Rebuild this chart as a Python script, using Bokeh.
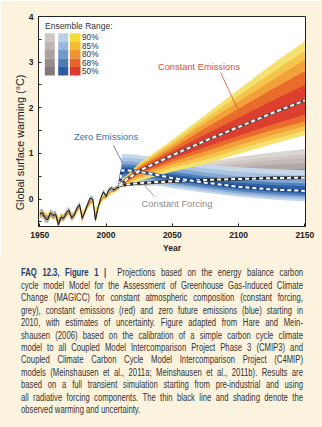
from bokeh.plotting import figure
from bokeh.models import Range1d, FixedTicker, Label, Div
from bokeh.layouts import column
from bokeh.embed import file_html
from bokeh.resources import INLINE

# ---------------- data ----------------
obs_years = list(range(1950, 2011, 2))
obs = [-0.32, -0.30, -0.42, -0.45, -0.30, -0.36, -0.33, -0.56, -0.40, -0.42, -0.30,
       -0.24, -0.42, -0.35, -0.20, -0.12, -0.42, -0.28, -0.12, 0.02, 0.00, -0.46,
       -0.18, 0.02, 0.16, 0.06, 0.20, 0.24, 0.20, 0.25, 0.26]
obs_err = [0.09, 0.09, 0.09, 0.08, 0.08, 0.08, 0.08, 0.08, 0.07, 0.07, 0.07, 0.07,
           0.07, 0.07, 0.06, 0.06, 0.06, 0.06, 0.06, 0.06, 0.06, 0.06, 0.05, 0.05,
           0.05, 0.05, 0.05, 0.05, 0.05, 0.05, 0.05]
hist_hi = [-0.22, -0.24, -0.28, -0.30, -0.26, -0.27, -0.27, -0.38, -0.31, -0.32, -0.26,
           -0.21, -0.29, -0.27, -0.17, -0.09, -0.26, -0.19, -0.08, 0.00, 0.02, -0.22,
           -0.08, 0.04, 0.12, 0.12, 0.19, 0.25, 0.25, 0.29, 0.33]
hist_lo = [-0.42, -0.42, -0.48, -0.50, -0.42, -0.44, -0.44, -0.62, -0.48, -0.48, -0.42,
           -0.37, -0.46, -0.42, -0.32, -0.24, -0.55, -0.34, -0.24, -0.14, -0.12, -0.55,
           -0.26, -0.12, -0.02, -0.02, 0.06, 0.12, 0.13, 0.17, 0.21]
hist_hi50 = [-0.28, -0.29, -0.35, -0.37, -0.32, -0.33, -0.33, -0.46, -0.37, -0.38, -0.32,
             -0.27, -0.35, -0.33, -0.23, -0.15, -0.36, -0.25, -0.15, -0.06, -0.04, -0.33,
             -0.15, -0.03, 0.06, 0.05, 0.13, 0.19, 0.19, 0.23, 0.27]
hist_lo50 = [-0.36, -0.37, -0.42, -0.44, -0.37, -0.39, -0.39, -0.56, -0.43, -0.43, -0.37,
             -0.32, -0.41, -0.37, -0.27, -0.19, -0.48, -0.29, -0.19, -0.09, -0.07, -0.48,
             -0.20, -0.07, 0.03, 0.02, 0.10, 0.16, 0.16, 0.20, 0.24]

# Constant emissions (red)
ce_years = [2010, 2015, 2025, 2050, 2075, 2100, 2125, 2150]
ce_med  = [0.30, 0.42, 0.62, 0.96, 1.28, 1.58, 1.88, 2.16]
ce_hi90 = [0.34, 0.50, 0.78, 1.30, 1.85, 2.40, 2.95, 3.46]
ce_hi85 = [0.33, 0.48, 0.75, 1.24, 1.76, 2.27, 2.77, 3.25]
ce_hi80 = [0.33, 0.47, 0.72, 1.18, 1.67, 2.14, 2.60, 3.05]
ce_hi68 = [0.32, 0.46, 0.69, 1.11, 1.56, 1.98, 2.40, 2.80]
ce_hi50 = [0.31, 0.44, 0.66, 1.04, 1.42, 1.78, 2.15, 2.50]
ce_lo50 = [0.29, 0.40, 0.58, 0.88, 1.14, 1.39, 1.63, 1.85]
ce_lo68 = [0.28, 0.38, 0.54, 0.82, 1.05, 1.29, 1.51, 1.70]
ce_lo80 = [0.27, 0.35, 0.49, 0.75, 0.95, 1.18, 1.40, 1.60]
ce_lo85 = [0.25, 0.33, 0.45, 0.68, 0.86, 1.09, 1.30, 1.50]
ce_lo90 = [0.24, 0.30, 0.40, 0.60, 0.77, 0.99, 1.20, 1.40]

# Zero emissions (blue)
ze_years = [2010, 2012, 2020, 2035, 2050, 2075, 2100, 2125, 2150]
ze_med  = [0.30, 0.63, 0.62, 0.55, 0.46, 0.36, 0.27, 0.21, 0.18]
ze_hi90 = [0.32, 0.98, 0.98, 0.92, 0.85, 0.76, 0.70, 0.66, 0.63]
ze_hi85 = [0.32, 0.90, 0.90, 0.84, 0.77, 0.67, 0.60, 0.55, 0.52]
ze_hi80 = [0.31, 0.83, 0.82, 0.76, 0.69, 0.58, 0.50, 0.45, 0.42]
ze_hi68 = [0.31, 0.76, 0.75, 0.68, 0.60, 0.50, 0.42, 0.37, 0.34]
ze_hi50 = [0.31, 0.70, 0.69, 0.62, 0.54, 0.44, 0.36, 0.31, 0.28]
ze_lo50 = [0.29, 0.55, 0.55, 0.49, 0.41, 0.31, 0.22, 0.16, 0.12]
ze_lo68 = [0.29, 0.50, 0.50, 0.44, 0.36, 0.26, 0.17, 0.11, 0.07]
ze_lo80 = [0.28, 0.46, 0.46, 0.40, 0.32, 0.22, 0.13, 0.07, 0.03]
ze_lo85 = [0.28, 0.42, 0.42, 0.36, 0.28, 0.18, 0.09, 0.03, -0.01]
ze_lo90 = [0.27, 0.38, 0.38, 0.32, 0.24, 0.14, 0.05, -0.01, -0.05]

# Constant forcing (grey)
cf_years = [2010, 2025, 2050, 2075, 2100, 2125, 2150]
cf_med  = [0.30, 0.35, 0.39, 0.42, 0.44, 0.46, 0.47]
cf_hi90 = [0.33, 0.48, 0.66, 0.80, 0.92, 1.02, 1.10]
cf_hi85 = [0.33, 0.46, 0.61, 0.73, 0.84, 0.92, 0.99]
cf_hi80 = [0.32, 0.44, 0.57, 0.68, 0.77, 0.85, 0.90]
cf_hi68 = [0.32, 0.42, 0.53, 0.62, 0.69, 0.75, 0.79]
cf_hi50 = [0.31, 0.40, 0.48, 0.55, 0.60, 0.64, 0.67]
cf_lo50 = [0.29, 0.33, 0.36, 0.38, 0.39, 0.40, 0.41]
cf_lo68 = [0.29, 0.32, 0.34, 0.36, 0.37, 0.38, 0.38]
cf_lo80 = [0.28, 0.31, 0.33, 0.34, 0.35, 0.35, 0.36]
cf_lo85 = [0.28, 0.30, 0.31, 0.32, 0.33, 0.33, 0.33]
cf_lo90 = [0.27, 0.29, 0.30, 0.30, 0.30, 0.30, 0.30]

range_labels = ["90%", "85%", "80%", "68%", "50%"]
x_ticks = [1950, 2000, 2050, 2100, 2150]
y_ticks = [0, 1, 2, 3, 4]
y_minor = [-0.5, 0.5, 1.5, 2.5, 3.5]
y_label = "Global surface warming (°C)"

caption_head = "FAQ 12.3, Figure 1 |"
caption_lines = [
    "Projections based on the energy balance carbon",
    "cycle model Model for the Assessment of Greenhouse Gas-Induced Climate",
    "Change (MAGICC) for constant atmospheric composition (constant forcing,",
    "grey), constant emissions (red) and zero future emissions (blue) starting in",
    "2010, with estimates of uncertainty. Figure adapted from Hare and Mein-",
    "shausen (2006) based on the calibration of a simple carbon cycle climate",
    "model to all Coupled Model Intercomparison Project Phase 3 (CMIP3) and",
    "Coupled Climate Carbon Cycle Model Intercomparison Project (C4MIP)",
    "models (Meinshausen et al., 2011a; Meinshausen et al., 2011b). Results are",
    "based on a full transient simulation starting from pre-industrial and using",
    "all radiative forcing components. The thin black line and shading denote the",
    "observed warming and uncertainty.",
]

# ---------------- styling ----------------
BG = "#fcf3df"
red_cols = ["#f5e26e", "#f4c44c", "#f1a03a", "#e96c2c", "#dc3f30"]
blue_cols = ["#c6d8ea", "#a9c3e0", "#84a7d3", "#4f82bb", "#2d5ea6"]
grey_cols = ["#dcd6d3", "#cfc8c4", "#c2bab6", "#b2a9a5", "#9f9591"]
leg_red = ["#f2dc36", "#f1bb35", "#ef962f", "#e8662b", "#db3a2e"]
leg_blue = ["#b9cfe6", "#98b7da", "#7199cc", "#4a7cb5", "#2f5c9f"]
leg_grey = ["#cdc6c3", "#bdb5b2", "#aaa19e", "#978d8a", "#847a77"]
FONT = "Liberation Sans"

W, H, TOP_H = 322, 427, 260
FL, FR, FT, FB = 38, 305, 16, 226
X0, X1, Y0, Y1 = 1949, 2150.5, -0.6, 4.0


def dx(px):
    return X0 + (px - FL) * (X1 - X0) / (FR - FL)


def dy(py):
    return Y1 - (py - FT) * (Y1 - Y0) / (FB - FT)


p = figure(width=W, height=TOP_H, output_backend="svg", toolbar_location=None,
           x_range=Range1d(X0, X1), y_range=Range1d(Y0, Y1),
           min_border_left=FL, min_border_right=W - FR,
           min_border_top=FT, min_border_bottom=TOP_H - FB)
p.border_fill_color = BG
p.background_fill_color = "white"
p.outline_line_color = "#222222"
p.outline_line_width = 1
p.xgrid.visible = False
p.ygrid.visible = False

for ax in (p.xaxis[0], p.yaxis[0]):
    ax.axis_line_color = "#222222"
    ax.major_tick_in = 3
    ax.major_tick_out = 0
    ax.minor_tick_in = 3
    ax.minor_tick_out = 0
    ax.major_tick_line_color = "#222222"
    ax.minor_tick_line_color = "#222222"
    ax.major_label_text_font = FONT
    ax.major_label_text_font_style = "bold"
    ax.major_label_text_font_size = "8.5px"
    ax.major_label_text_color = "#222222"
    ax.major_label_standoff = 5
    ax.axis_label_text_font = FONT
    ax.axis_label_text_color = "#222222"

p.xaxis.ticker = FixedTicker(ticks=x_ticks)
p.yaxis.ticker = FixedTicker(ticks=y_ticks, minor_ticks=y_minor)
p.xaxis.axis_label = "Year"
p.xaxis.axis_label_text_font_style = "bold"
p.xaxis.axis_label_text_font_size = "8.5px"
p.xaxis.axis_label_standoff = 2
# trailing no-break spaces shift the rotated label down, as in the reference
p.yaxis.axis_label = y_label + "\u00a0" * 14
p.yaxis.axis_label_text_font_style = "normal"
p.yaxis.axis_label_text_font_size = "10.8px"
p.yaxis.axis_label_standoff = 0

# ---------------- historical ----------------
p.varea(x=obs_years, y1=hist_lo, y2=hist_hi, fill_color=red_cols[0])
p.varea(x=obs_years, y1=hist_lo50, y2=hist_hi50, fill_color=red_cols[3])
p.varea(x=obs_years, y1=[o - e for o, e in zip(obs, obs_err)],
        y2=[o + e for o, e in zip(obs, obs_err)], fill_color="#9a9a9a", fill_alpha=0.7)
p.line(obs_years, obs, line_color="#111111", line_width=1)


# ---------------- projections ----------------
def bands(years, his, los, cols):
    for hi, lo, c in zip(his, los, cols):
        p.varea(x=years, y1=lo, y2=hi, fill_color=c)


bands(cf_years, [cf_hi90, cf_hi85, cf_hi80, cf_hi68, cf_hi50],
      [cf_lo90, cf_lo85, cf_lo80, cf_lo68, cf_lo50], grey_cols)
bands(ze_years, [ze_hi90, ze_hi85, ze_hi80, ze_hi68, ze_hi50],
      [ze_lo90, ze_lo85, ze_lo80, ze_lo68, ze_lo50], blue_cols)
bands(ce_years, [ce_hi90, ce_hi85, ce_hi80, ce_hi68, ce_hi50],
      [ce_lo90, ce_lo85, ce_lo80, ce_lo68, ce_lo50], red_cols)

for yrs, med, base in ((cf_years, cf_med, "#222222"),
                       (ze_years, ze_med, "#1d4585"),
                       (ce_years, ce_med, "#6a4a48")):
    p.line(yrs, med, line_color=base, line_width=3)
    p.line(yrs, med, line_color="white", line_width=2, line_dash="4 3")

# ---------------- scenario labels ----------------
p.add_layout(Label(x=dx(198.5), y=dy(66), text="Constant Emissions", text_font=FONT,
                   text_font_size="9.3px", text_color="#e24a3d", text_align="center",
                   text_baseline="middle"))
p.segment(x0=[dx(220)], y0=[dy(72)], x1=[dx(237)], y1=[dy(108)],
          line_color="#e24a3d", line_width=0.8)
p.add_layout(Label(x=dx(105.5), y=dy(136.5), text="Zero Emissions", text_font=FONT,
                   text_font_size="9.3px", text_color="#3b6db4", text_align="center",
                   text_baseline="middle"))
p.segment(x0=[dx(113)], y0=[dy(145)], x1=[dx(121.5)], y1=[dy(161.5)],
          line_color="#3b6db4", line_width=0.8)
p.add_layout(Label(x=dx(176.5), y=dy(203), text="Constant Forcing", text_font=FONT,
                   text_font_size="9.3px", text_color="#8a8a8a", text_align="center",
                   text_baseline="middle"))
p.segment(x0=[dx(143)], y0=[dy(183.5)], x1=[dx(154)], y1=[dy(196)],
          line_color="#8a8a8a", line_width=0.8)

# ---------------- legend ----------------
p.add_layout(Label(x=dx(44.5), y=dy(25.7), text="Ensemble Range:", text_font=FONT,
                   text_font_size="8.5px", text_color="#333333", text_align="left",
                   text_baseline="middle"))
row_h = 8.46
for i, lab in enumerate(range_labels):
    top = 32.7 + i * row_h
    bot = top + row_h
    for (l, r), cols in (((44.3, 54.3), leg_grey), ((57.7, 67.7), leg_blue),
                         ((69.3, 80.0), leg_red)):
        p.quad(left=[dx(l)], right=[dx(r)], top=[dy(top)], bottom=[dy(bot)],
               fill_color=cols[i], line_color=None)
    p.add_layout(Label(x=dx(81.5), y=dy(top + row_h / 2), text=lab, text_font=FONT,
                       text_font_size="8.3px", text_color="#333333", text_align="left",
                       text_baseline="middle"))

# ---------------- caption (HTML block below the figure) ----------------
CAP_H = H - TOP_H
SX = 0.77           # horizontal condensing of the caption type
TEXT_W = 282        # justified line width in the reference
cap_y0, cap_dy = 273.3 - TOP_H, 12.45
rows = []
for i, line in enumerate(caption_lines):
    top = cap_y0 + i * cap_dy - 6
    last = "left" if i == len(caption_lines) - 1 else "justify"
    content = line
    if i == 0:
        content = ('<b style="color:#1f3d73">' + caption_head + '</b>&nbsp;&nbsp;' + line)
    rows.append(
        f'<div style="position:absolute;left:20.5px;top:{top:.2f}px;'
        f'width:{TEXT_W / SX:.1f}px;transform:scaleX({SX});transform-origin:0 0;'
        f'text-align:justify;text-align-last:{last};font-size:10px;line-height:12px;'
        f'white-space:normal;">{content}</div>')
html = (f'<div style="position:relative;width:{W}px;height:{CAP_H}px;background:{BG};'
        f'font-family:\'Liberation Sans\',Arial,sans-serif;color:#333333;overflow:hidden;">'
        + "".join(rows) + '</div>')
cap = Div(text=html, width=W, height=CAP_H, margin=0)

layout = column(p, cap, spacing=0)
open("out.html", "w").write(file_html(layout, INLINE))
